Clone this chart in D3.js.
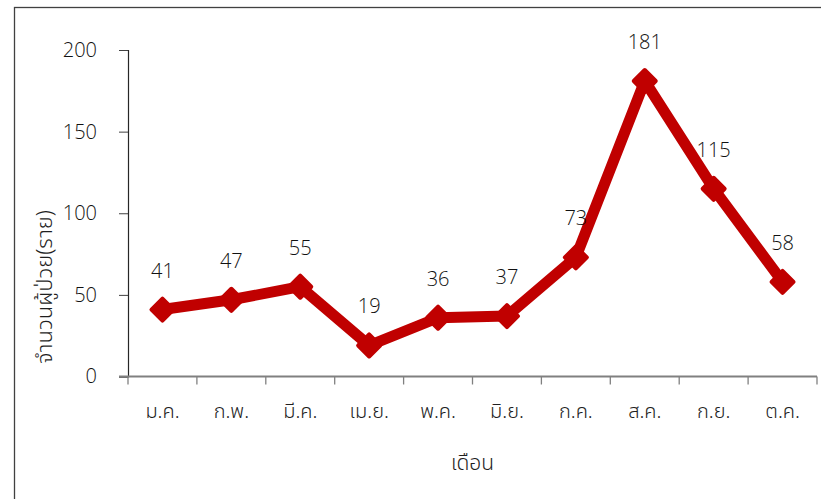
<!DOCTYPE html>
<html>
<head>
<meta charset="utf-8">
<script src="https://cdn.jsdelivr.net/npm/d3@7"></script>
<style>
  html, body { margin: 0; padding: 0; background: #fff; }
  svg { display: block; }
  text { font-family: "Noto Sans Thai", "Tahoma", "Noto Sans", sans-serif; fill: #1f1f1f; font-weight: 300; }
  text.num { font-family: "Open Sans", "Noto Sans", sans-serif; font-weight: 300; }
</style>
</head>
<body>
<svg id="chart"></svg>
<script>
// ข้อมูล
const months = ['ม.ค.', 'ก.พ.', 'มี.ค.', 'เม.ย.', 'พ.ค.', 'มิ.ย.', 'ก.ค.', 'ส.ค.', 'ก.ย.', 'ต.ค.'];
const patients = [41, 47, 55, 19, 36, 37, 73, 181, 115, 58];
const yTicks = [0, 50, 100, 150, 200];

const W = 821, H = 499;
const m = { left: 128, right: 4, top: 50, bottom: 122 };

const svg = d3.select('#chart').attr('width', W).attr('height', H);

// กรอบ
svg.append('rect')
  .attr('x', 14.5).attr('y', 7.5)
  .attr('width', W + 20).attr('height', H + 20)
  .attr('fill', 'none').attr('stroke', '#404040').attr('stroke-width', 1.3);

const x = d3.scaleBand().domain(months).range([m.left, W - m.right]).padding(0);
const y = d3.scaleLinear().domain([0, 200]).range([H - m.bottom - 0.5, m.top]);

// แกน Y
const yAxis = svg.append('g')
  .attr('transform', `translate(${m.left},0)`)
  .call(d3.axisLeft(y).tickValues(yTicks).tickSize(9).tickPadding(22));
yAxis.select('.domain').attr('stroke', '#262626').attr('stroke-width', 1.2);
yAxis.selectAll('.tick line').attr('stroke', '#404040');
yAxis.selectAll('text').attr('class', 'num').attr('font-size', 20).style('fill', '#111');

// แกน X
const xAxis = svg.append('g')
  .attr('transform', `translate(0,${y(0)})`)
  .call(d3.axisBottom(x).tickSize(0).tickPadding(27));
xAxis.select('.domain').remove();
xAxis.selectAll('text').attr('font-size', 20).style('fill', '#1f1f1f');

const xb = [...months.map(d => x(d)), x.range()[1]];
const axG = svg.append('g').attr('transform', `translate(0,${y(0)})`);
axG.append('line')
  .attr('x1', m.left - 9).attr('x2', x.range()[1])
  .attr('stroke', '#808080').attr('stroke-width', 2);
axG.selectAll('line.tk').data(xb).join('line')
  .attr('class', 'tk')
  .attr('x1', d => d).attr('x2', d => d)
  .attr('y1', 0).attr('y2', 8)
  .attr('stroke', '#808080').attr('stroke-width', 1.3);

// ชื่อแกน
svg.append('text')
  .attr('x', (m.left + x.range()[1]) / 2).attr('y', 470)
  .attr('text-anchor', 'middle').attr('font-size', 21)
  .text('เดือน');
svg.append('text')
  .attr('transform', `translate(52,287) rotate(-90)`)
  .attr('text-anchor', 'middle').attr('font-size', 22)
  .text('จำนวนผู้ป่วย(ราย)');

// เส้น
const cx = d => x(d) + x.bandwidth() / 2;
svg.append('path')
  .datum(patients)
  .attr('d', d3.line().x((d, i) => cx(months[i])).y(d => y(d)))
  .attr('fill', 'none')
  .attr('stroke', '#C00000')
  .attr('stroke-width', 11)
  .attr('stroke-linejoin', 'round');

// จุด (ข้าวหลามตัด)
svg.append('g').selectAll('path').data(patients).join('path')
  .attr('transform', (d, i) => `translate(${cx(months[i])},${y(d)})`)
  .attr('d', 'M0,-11L11,0L0,11L-11,0Z')
  .attr('fill', '#C00000')
  .attr('stroke', '#C00000')
  .attr('stroke-width', 4)
  .attr('stroke-linejoin', 'round');

// ป้ายค่า
svg.append('g').selectAll('text').data(patients).join('text')
  .attr('class', 'num')
  .attr('x', (d, i) => cx(months[i]))
  .attr('y', d => y(d) - 32)
  .attr('text-anchor', 'middle')
  .attr('font-size', 20)
  .style('fill', '#111')
  .text(d => d);
</script>
</body>
</html>
